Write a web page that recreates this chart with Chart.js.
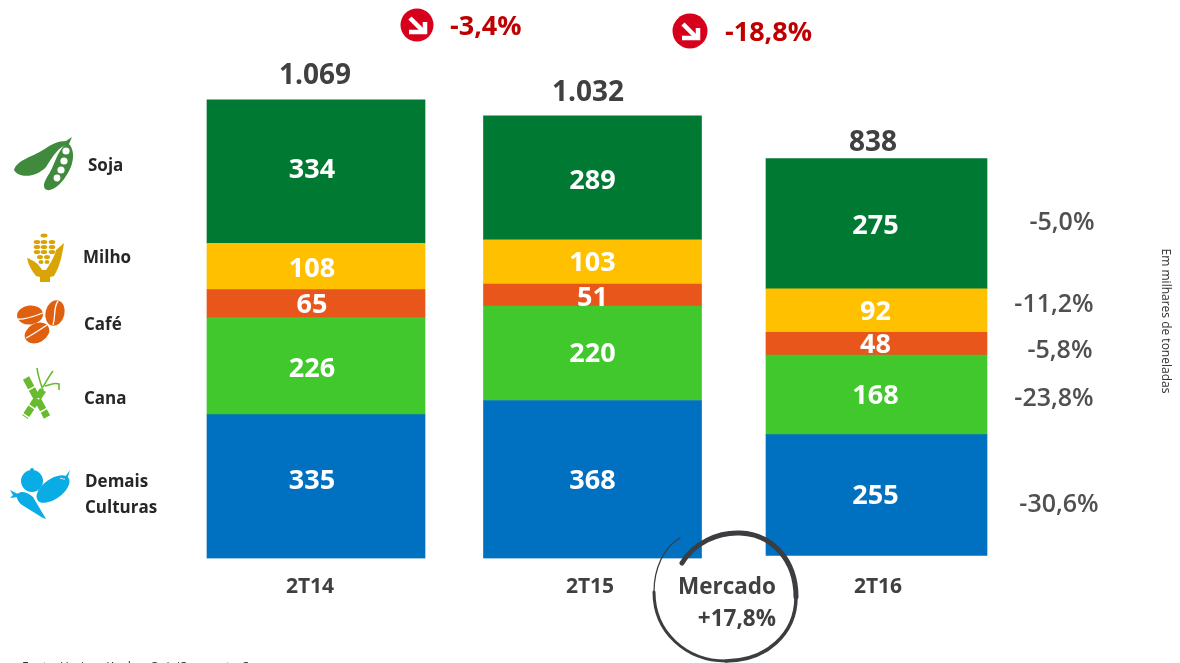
<!DOCTYPE html>
<html lang="pt">
<head>
<meta charset="utf-8">
<title>Volume por cultura</title>
<style>
html,body{margin:0;padding:0;background:#fff;overflow:hidden}
#wrap{position:relative;width:1180px;height:663px}
canvas{position:absolute;left:0;top:0}
svg{position:absolute;left:0;top:0;pointer-events:none}
</style>
<script src="https://cdn.jsdelivr.net/npm/chart.js@4"></script>
</head>
<body>
<div id="wrap">
<canvas id="c" width="1180" height="663"></canvas>
<svg width="1180" height="663" viewBox="0 0 1180 663">
  <defs><filter id="soft" x="-10%" y="-10%" width="120%" height="120%"><feGaussianBlur stdDeviation="0.5"/></filter></defs>
  <!-- Soja -->
  <path d="M14 170C17 160 32 157 43 150C52 144 58 141 66 141L72 137L69 144C58 146 52 158 46 167C38 176 20 180 14 170Z" fill="#3f8a3c"/>
  <path d="M68 143C76 150 74 165 66 176C60 186 50 193 45 189C41 183 49 176 53 166C57 157 60 147 68 143Z" fill="#3f8a3c"/>
  <g fill="#fff"><circle cx="66" cy="151" r="3.6"/><circle cx="64" cy="161" r="3.6"/><circle cx="61" cy="170" r="3.6"/><circle cx="57" cy="178" r="3.4"/></g>
  <!-- Milho -->
  <g fill="#d9a406">
    <path d="M27 258C33 260 39 264 42 270L46 270C50 264 55 256 56 250L64 243C62 256 60 266 54 276L50 277V282H40V277L36 276C31 270 28 264 27 258Z"/>
    <ellipse cx="44" cy="235.500" rx="3.500" ry="2"/>
    <ellipse cx="37" cy="242" rx="3.300" ry="2"/><ellipse cx="44" cy="242" rx="3.300" ry="2"/><ellipse cx="52" cy="242" rx="3.300" ry="2"/>
    <ellipse cx="37" cy="247" rx="3.300" ry="2"/><ellipse cx="44" cy="247" rx="3.300" ry="2"/><ellipse cx="52" cy="247" rx="3.300" ry="2"/>
    <ellipse cx="37" cy="252" rx="3.300" ry="2"/><ellipse cx="44" cy="252" rx="3.300" ry="2"/><ellipse cx="52" cy="252" rx="3.300" ry="2"/>
    <ellipse cx="40" cy="257" rx="3" ry="2"/><ellipse cx="47" cy="257" rx="3" ry="2"/>
    <ellipse cx="41" cy="262" rx="2.500" ry="2"/><ellipse cx="47" cy="262" rx="2.500" ry="2"/>
  </g>
  <!-- Cafe -->
  <g fill="#e0600f">
    <ellipse cx="30" cy="315" rx="13" ry="9.500" transform="rotate(-6 30 315)"/>
    <ellipse cx="55" cy="313" rx="9.500" ry="13" transform="rotate(14 55 313)"/>
    <ellipse cx="37" cy="333" rx="13" ry="9.500" transform="rotate(-28 37 333)"/>
  </g>
  <g fill="none" stroke="#fff" stroke-width="1.300">
    <path d="M18 319C26 320 34 316 43 313"/><path d="M58 301C53 308 56 316 53 325"/><path d="M26 338C32 335 38 331 47 325"/>
  </g>
  <!-- Cana -->
  <g stroke="#68bb2e" fill="none">
    <path d="M26 378L47 417" stroke-width="7" stroke-dasharray="11 1.500"/>
    <path d="M43 390L25 417" stroke-width="7" stroke-dasharray="9 1.500"/>
    <path d="M43 390C40 382 38 376 37 368M43 387C46 382 49 376 53 371M45 386C50 385 55 382 59 384L59 390" stroke-width="1.600"/>
  </g>
  <!-- Demais -->
  <g fill="#0aace6">
    <circle cx="32" cy="481" r="11"/><circle cx="32" cy="470" r="2"/>
    <ellipse cx="53" cy="489" rx="19" ry="10" transform="rotate(-36 53 489)"/>
    <path d="M65 477L70 470L67 480Z"/>
    <path d="M17 494C23 490 28 493 33 497L46 519L43 518L22 505C18 502 16 498 17 494Z"/>
    <path d="M18 494L10 490L13 495L10 498L18 497Z"/>
  </g>
  <path d="M60 479C62 477 63 480 65 479" fill="none" stroke="#fff" stroke-width="1"/>
  <!-- Setas -->
  <circle cx="417" cy="25" r="16.500" fill="#d7001c"/>
  <g fill="none" stroke="#fff" stroke-width="4.500"><path d="M410 18L423 31"/><path d="M409 32H425V22"/></g>
  <circle cx="690" cy="31" r="17.500" fill="#d7001c"/>
  <g fill="none" stroke="#fff" stroke-width="4.500"><path d="M683 24L696 37"/><path d="M682 38H698V28"/></g>
  <!-- Mercado -->
  <g fill="none" stroke="#3b3c40" stroke-linecap="round" filter="url(#soft)">
    <path d="M682 563C694 543 718 532 740 533C772 534 796 560 796 597" stroke-width="5"/>
    <path d="M796 597C796 634 766 661 726 661" stroke-width="3.500"/>
    <path d="M726 661C686 661 654 632 654 592" stroke-width="3"/>
    <path d="M654 592C654 568 664 547 680 538" stroke-width="1.200"/>
  </g>
</svg>
</div>
<script>
// ---- data ----
const categories = ['2T14', '2T15', '2T16'];
const soja   = [334, 289, 275];
const milho  = [108, 103, 92];
const cafe   = [65, 51, 48];
const cana   = [226, 220, 168];
const demais = [335, 368, 255];
const totals = ['1.069', '1.032', '838'];
const cropNames = ['Soja', 'Milho', 'Café', 'Cana', 'Demais', 'Culturas'];
const variations = ['-5,0%', '-11,2%', '-5,8%', '-23,8%', '-30,6%'];
const headlineChanges = ['-3,4%', '-18,8%'];

const FONT = '"Open Sans", "Noto Sans", sans-serif';
const GREY = '#404040';
const series = [
  { values: demais, color: '#0070C0' },
  { values: cana,   color: '#40C82D' },
  { values: cafe,   color: '#E8561C' },
  { values: milho,  color: '#FFC000' },
  { values: soja,   color: '#007A33' }
];

// Category scale whose slots may be unevenly spaced, as in the source slide.
class SlideCategoryScale extends Chart.CategoryScale {
  getPixelForValue(value, index) {
    return super.getPixelForValue(value, index) + (this.options.nudge?.[value] || 0);
  }
}
SlideCategoryScale.id = 'slideCategory';
SlideCategoryScale.defaults = Chart.CategoryScale.defaults;
Chart.register(SlideCategoryScale);

const datasets = [];
categories.forEach((_, q) => {
  series.forEach(s => {
    datasets.push({
      data: categories.map((__, j) => (j === q ? s.values[q] : null)),
      backgroundColor: s.color,
      borderWidth: 0,
      barThickness: q === 2 ? 221 : 218,
      xAxisID: 'x',
      yAxisID: q === 2 ? 'y2' : 'y'
    });
  });
});

function text(ctx, str, x, y, font, color, align) {
  ctx.font = font;
  ctx.fillStyle = color;
  ctx.textAlign = align || 'center';
  ctx.textBaseline = 'middle';
  ctx.fillText(str, x, y);
}

const labelsPlugin = {
  id: 'slideLabels',
  afterDatasetsDraw(chart) {
    const ctx = chart.ctx;
    ctx.save();
    const labelDx = [-4, 0, -1];
    const labelDy = [[-5, 3, 2, 3, -1], [2, 1, 3, 1, 3], [1, 1, 2, 2, 3]];
    const n = series.length;
    chart.data.datasets.forEach((ds, d) => {
      const q = Math.floor(d / n), s = d % n;
      const bar = chart.getDatasetMeta(d).data[q];
      const mid = (bar.y + bar.base) / 2;
      text(ctx, String(ds.data[q]), bar.x + labelDx[q], mid + labelDy[q][s], '700 27px ' + FONT, '#fff');
    });
    // totals above each stack
    const totalX = [315, 588, 873], totalY = [76, 93, 143];
    totals.forEach((t, i) => text(ctx, t, totalX[i], totalY[i], '700 28px ' + FONT, GREY));
    // headline changes
    text(ctx, headlineChanges[0], 450, 27, '700 27px ' + FONT, '#C00000', 'left');
    text(ctx, headlineChanges[1], 725, 33, '700 27px ' + FONT, '#C00000', 'left');
    // legend names
    const nameX = [88, 83, 84, 84, 85, 85], nameY = [166, 258, 325, 399, 482, 508];
    cropNames.forEach((c, i) => text(ctx, c, nameX[i], nameY[i], '700 17px ' + FONT, '#262626', 'left'));
    // per-crop variation
    const varX = [1062, 1054, 1060, 1054, 1059], varY = [223, 305, 351, 399, 505];
    variations.forEach((v, i) => text(ctx, v, varX[i], varY[i], '600 25px ' + FONT, '#505050'));
    // market call-out
    text(ctx, 'Mercado', 727, 588, '700 22.5px ' + FONT, GREY);
    text(ctx, '+17,8%', 776, 620, '700 22.5px ' + FONT, GREY, 'right');
    // unit note, rotated
    ctx.save();
    ctx.translate(1165, 321);
    ctx.rotate(Math.PI / 2);
    text(ctx, 'Em milhares de toneladas', 0, 0, '400 12px ' + FONT, '#333');
    ctx.restore();
    // source line, cut off by the page edge
    text(ctx, 'Fonte: Horizon/Andav; Opiniões e cotações', 22, 668, '400 12px ' + FONT, '#333', 'left');
    ctx.restore();
  }
};

new Chart(document.getElementById('c'), {
  type: 'bar',
  data: { labels: categories, datasets },
  options: {
    responsive: false,
    animation: false,
    events: [],
    layout: { padding: { left: 176, right: 164, top: 58.5, bottom: 64.5 } },
    plugins: { legend: { display: false }, tooltip: { enabled: false }, title: { display: false } },
    scales: {
      x: {
        type: 'slideCategory', stacked: true, display: false,
        nudge: [0, -3.5, 0.5]
      },
      xLabels: {
        type: 'slideCategory', position: 'bottom',
        nudge: [-6, -6, 2],
        grid: { display: false, drawTicks: false },
        border: { display: false },
        afterFit(scale) { scale.height = 40; },
        ticks: { padding: 16, maxRotation: 0, color: GREY, font: { family: FONT, size: 21, weight: '700' } }
      },
      y:  { stacked: true, display: false, min: 0, max: 1164.4 },
      y2: { stacked: true, display: false, min: -6.33, max: 1049 }
    }
  },
  plugins: [labelsPlugin]
});
</script>
</body>
</html>
